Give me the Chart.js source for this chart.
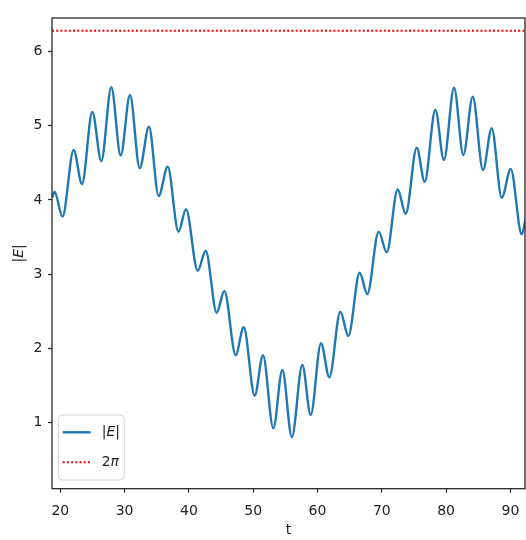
<!DOCTYPE html>
<html><head><meta charset="utf-8">
<style>html,body{margin:0;padding:0;background:#fff;}#wrap{width:526px;height:540px;}</style>
<script src="https://cdn.jsdelivr.net/npm/chart.js@4/dist/chart.umd.min.js"></script>
</head><body><div id="wrap"><canvas id="c" width="526" height="540"></canvas></div>
<script>
// |E| (local peaks / troughs plus the edge points)
const tValues = [18.75, 19.10, 20.34, 22.08, 23.37, 24.98, 26.38, 27.93, 29.39, 30.84, 32.35, 33.79, 35.30, 36.70, 38.38, 39.55, 41.37, 42.61, 44.32, 45.51, 47.28, 48.52, 50.23, 51.52, 53.13, 54.53, 56.01, 57.64, 58.94, 60.54, 61.84, 63.55, 64.79, 66.56, 67.74, 69.52, 70.76, 72.47, 73.72, 75.43, 76.67, 78.32, 79.67, 81.23, 82.68, 84.14, 85.74, 87.09, 88.65, 90.05, 91.76, 92.43];
const eValues = [4.04, 4.11, 3.775, 4.674, 4.215, 5.186, 4.525, 5.52, 4.60, 5.416, 4.427, 4.988, 4.053, 4.449, 3.571, 3.874, 3.045, 3.315, 2.479, 2.771, 1.908, 2.282, 1.359, 1.904, 0.919, 1.706, 0.80, 1.773, 1.098, 2.066, 1.607, 2.492, 2.164, 3.018, 2.731, 3.572, 3.294, 4.14, 3.813, 4.705, 4.246, 5.213, 4.539, 5.514, 4.606, 5.393, 4.404, 4.967, 4.030, 4.417, 3.536, 3.774];
const refValue = 2 * Math.PI;
const xTicks = [20, 30, 40, 50, 60, 70, 80, 90];
const yTicks = [1, 2, 3, 4, 5, 6];
const xLimits = [18.71, 92.27];
const yLimits = [0.104, 6.455];
const legendParts = [
  [{t:'|'}, {t:'E', i:true}, {t:'|'}],
  [{t:'2'}, {t:'\u03C0', i:true}]
];
const yTitleParts = [{t:'|'}, {t:'E', i:true}, {t:'|'}];

const FONT = '"DejaVu Sans"';
const FS = 14;
function drawRich(ctx, parts, x, y, align, size) {
  const widths = parts.map(p => { ctx.font = (p.i ? 'italic ' : '') + size + 'px ' + FONT; return ctx.measureText(p.t).width; });
  const total = widths.reduce((a, b) => a + b, 0);
  let cx = align === 'center' ? x - total / 2 : x;
  ctx.textAlign = 'left'; ctx.textBaseline = 'middle';
  parts.forEach((p, k) => { ctx.font = (p.i ? 'italic ' : '') + size + 'px ' + FONT; ctx.fillText(p.t, cx, y); cx += widths[k]; });
}

const decor = {
  id: 'decor',
  afterDatasetsDraw(chart) {
    const {ctx, chartArea: a} = chart;
    ctx.save();
    ctx.strokeStyle = '#262626'; ctx.lineWidth = 1.3;
    ctx.strokeRect(a.left, a.top, a.right - a.left, a.bottom - a.top);
    ctx.fillStyle = '#222';
    ctx.translate(a.left - 32.5, (a.top + a.bottom) / 2);
    ctx.rotate(-Math.PI / 2);
    drawRich(ctx, yTitleParts, 0, 0, 'center', FS);
    ctx.restore();
    ctx.save();
    const w = 66, h = 65;
    const x0 = a.left + 6.3, y0 = a.bottom - 8.7 - h;
    ctx.beginPath();
    ctx.roundRect(x0, y0, w, h, 4);
    ctx.fillStyle = 'rgba(255,255,255,0.8)'; ctx.fill();
    ctx.strokeStyle = '#d4d4d4'; ctx.lineWidth = 1; ctx.stroke();
    chart.data.datasets.forEach((ds, i) => {
      const yy = y0 + 17.3 + i * 30;
      ctx.beginPath();
      ctx.setLineDash(ds.borderDash || []);
      ctx.strokeStyle = ds.borderColor; ctx.lineWidth = ds.borderWidth;
      ctx.moveTo(x0 + 4.4, yy); ctx.lineTo(x0 + 32.4, yy); ctx.stroke();
      ctx.setLineDash([]);
      ctx.fillStyle = '#222';
      drawRich(ctx, legendParts[i], x0 + 43.4, yy, 'left', FS);
    });
    ctx.restore();
  }
};

new Chart(document.getElementById('c'), {
  type: 'line',
  data: {
    datasets: [
      { label: '|E|', data: tValues.map((t, k) => ({x: t, y: eValues[k]})),
        borderColor: '#1f77b4', borderWidth: 2.4, pointRadius: 0, fill: false,
        cubicInterpolationMode: 'monotone' },
      { label: '2\u03C0', data: xLimits.map(t => ({x: t, y: refValue})),
        borderColor: '#ff0000', borderWidth: 2, borderDash: [2, 2.2], pointRadius: 0, fill: false }
    ]
  },
  options: {
    responsive: false, animation: false, devicePixelRatio: 1,
    layout: { padding: { top: 18, right: 1, bottom: 0, left: 0 } },
    plugins: { legend: { display: false }, tooltip: { enabled: false } },
    scales: {
      x: {
        type: 'linear', min: xLimits[0], max: xLimits[1],
        afterBuildTicks: ax => { ax.ticks = xTicks.map(v => ({value: v})); },
        afterFit: s => { s.height = 51.3; s.paddingLeft = 0; s.paddingRight = 0; },
        border: { display: false },
        grid: { drawOnChartArea: false, drawTicks: true, tickLength: 4, tickWidth: 1.2, tickColor: '#262626' },
        ticks: { color: '#222', padding: 10.6, maxRotation: 0, autoSkip: false, font: { family: 'DejaVu Sans', size: FS } },
        title: { display: true, text: 't', color: '#222', font: { family: 'DejaVu Sans', size: FS }, padding: { top: 0, bottom: 1.1 } }
      },
      y: {
        type: 'linear', min: yLimits[0], max: yLimits[1],
        afterBuildTicks: ax => { ax.ticks = yTicks.map(v => ({value: v})); },
        afterFit: s => { s.width = 52; s.paddingTop = 0; s.paddingBottom = 0; },
        border: { display: false },
        grid: { drawOnChartArea: false, drawTicks: true, tickLength: 4, tickWidth: 1.2, tickColor: '#262626' },
        ticks: { color: '#222', padding: 5.5, autoSkip: false, font: { family: 'DejaVu Sans', size: FS } }
      }
    }
  },
  plugins: [decor]
});
</script>
</body></html>
